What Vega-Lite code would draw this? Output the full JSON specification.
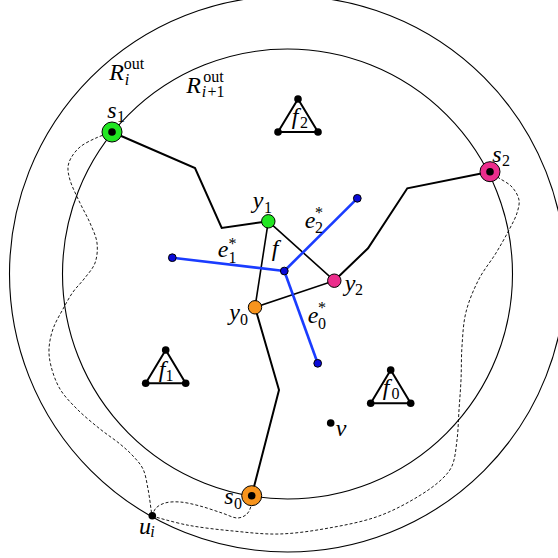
{
  "$schema": "https://vega.github.io/schema/vega-lite/v6.json",
  "width": 558,
  "height": 558,
  "padding": 0,
  "autosize": {"type": "none"},
  "background": "white",
  "config": {"view": {"stroke": null}},
  "datasets": {
    "rings": [
      {"x": 287.5, "y": 274, "r": 278},
      {"x": 287.5, "y": 274, "r": 225}
    ],
    "dashed": [
      {"c": "A", "i": 0, "x": 112, "y": 132},
      {"c": "A", "i": 1, "x": 96, "y": 138},
      {"c": "A", "i": 2, "x": 80, "y": 147},
      {"c": "A", "i": 3, "x": 71, "y": 158},
      {"c": "A", "i": 4, "x": 68, "y": 167},
      {"c": "A", "i": 5, "x": 70, "y": 180},
      {"c": "A", "i": 6, "x": 80, "y": 203},
      {"c": "A", "i": 7, "x": 90, "y": 223},
      {"c": "A", "i": 8, "x": 97, "y": 243},
      {"c": "A", "i": 9, "x": 95, "y": 263},
      {"c": "A", "i": 10, "x": 84, "y": 279},
      {"c": "A", "i": 11, "x": 73, "y": 292},
      {"c": "A", "i": 12, "x": 63, "y": 309},
      {"c": "A", "i": 13, "x": 53, "y": 329},
      {"c": "A", "i": 14, "x": 49, "y": 349},
      {"c": "A", "i": 15, "x": 51, "y": 366},
      {"c": "A", "i": 16, "x": 60, "y": 389},
      {"c": "A", "i": 17, "x": 77, "y": 409},
      {"c": "A", "i": 18, "x": 100, "y": 429},
      {"c": "A", "i": 19, "x": 120, "y": 444},
      {"c": "A", "i": 20, "x": 133, "y": 456},
      {"c": "A", "i": 21, "x": 143, "y": 469},
      {"c": "A", "i": 22, "x": 148, "y": 489},
      {"c": "A", "i": 23, "x": 151, "y": 509},
      {"c": "A", "i": 24, "x": 152, "y": 516},
      {"c": "B", "i": 0, "x": 152, "y": 516},
      {"c": "B", "i": 1, "x": 156, "y": 508},
      {"c": "B", "i": 2, "x": 165, "y": 503},
      {"c": "B", "i": 3, "x": 180, "y": 502},
      {"c": "B", "i": 4, "x": 200, "y": 506},
      {"c": "B", "i": 5, "x": 222, "y": 513},
      {"c": "B", "i": 6, "x": 238, "y": 518},
      {"c": "B", "i": 7, "x": 247, "y": 514},
      {"c": "B", "i": 8, "x": 251, "y": 506},
      {"c": "B", "i": 9, "x": 252, "y": 496},
      {"c": "C", "i": 0, "x": 152, "y": 516},
      {"c": "C", "i": 1, "x": 187, "y": 525},
      {"c": "C", "i": 2, "x": 233, "y": 531},
      {"c": "C", "i": 3, "x": 279, "y": 534},
      {"c": "C", "i": 4, "x": 329, "y": 528},
      {"c": "C", "i": 5, "x": 379, "y": 516},
      {"c": "C", "i": 6, "x": 419, "y": 496},
      {"c": "C", "i": 7, "x": 442, "y": 479},
      {"c": "C", "i": 8, "x": 452, "y": 466},
      {"c": "C", "i": 9, "x": 457, "y": 440},
      {"c": "C", "i": 10, "x": 459, "y": 410},
      {"c": "C", "i": 11, "x": 461, "y": 380},
      {"c": "C", "i": 12, "x": 462, "y": 346},
      {"c": "C", "i": 13, "x": 466, "y": 312},
      {"c": "C", "i": 14, "x": 479, "y": 279},
      {"c": "C", "i": 15, "x": 496, "y": 253},
      {"c": "C", "i": 16, "x": 509, "y": 230},
      {"c": "C", "i": 17, "x": 517, "y": 213},
      {"c": "C", "i": 18, "x": 519, "y": 200},
      {"c": "C", "i": 19, "x": 512, "y": 187},
      {"c": "C", "i": 20, "x": 499, "y": 178},
      {"c": "C", "i": 21, "x": 490, "y": 172}
    ],
    "paths": [
      {"p": "s1", "i": 0, "x": 112, "y": 132},
      {"p": "s1", "i": 1, "x": 195, "y": 168},
      {"p": "s1", "i": 2, "x": 221.7, "y": 228},
      {"p": "s1", "i": 3, "x": 268.3, "y": 221.3},
      {"p": "s0", "i": 0, "x": 255, "y": 307.3},
      {"p": "s0", "i": 1, "x": 279, "y": 390},
      {"p": "s0", "i": 2, "x": 251.7, "y": 495.7},
      {"p": "s2", "i": 0, "x": 334.3, "y": 280.7},
      {"p": "s2", "i": 1, "x": 368, "y": 248.3},
      {"p": "s2", "i": 2, "x": 407.3, "y": 188.3},
      {"p": "s2", "i": 3, "x": 490, "y": 171.7}
    ],
    "tri": [
      {"i": 0, "x": 268.3, "y": 221.3},
      {"i": 1, "x": 255, "y": 307.3},
      {"i": 2, "x": 334.3, "y": 280.7},
      {"i": 3, "x": 268.3, "y": 221.3}
    ],
    "faces": [
      {"f": "f2", "i": 0, "x": 298, "y": 99},
      {"f": "f2", "i": 1, "x": 278, "y": 132},
      {"f": "f2", "i": 2, "x": 318, "y": 132},
      {"f": "f2", "i": 3, "x": 298, "y": 99},
      {"f": "f1", "i": 0, "x": 165.7, "y": 350},
      {"f": "f1", "i": 1, "x": 145.7, "y": 383.3},
      {"f": "f1", "i": 2, "x": 185.7, "y": 383.3},
      {"f": "f1", "i": 3, "x": 165.7, "y": 350},
      {"f": "f0", "i": 0, "x": 390.7, "y": 370},
      {"f": "f0", "i": 1, "x": 370.7, "y": 403.3},
      {"f": "f0", "i": 2, "x": 410.7, "y": 403.3},
      {"f": "f0", "i": 3, "x": 390.7, "y": 370}
    ],
    "dual": [
      {"e": "e1", "i": 0, "x": 172.3, "y": 257.7},
      {"e": "e1", "i": 1, "x": 284.3, "y": 271},
      {"e": "e2", "i": 0, "x": 284.3, "y": 271},
      {"e": "e2", "i": 1, "x": 357.3, "y": 198.3},
      {"e": "e0", "i": 0, "x": 284.3, "y": 271},
      {"e": "e0", "i": 1, "x": 317.7, "y": 363.3}
    ],
    "dualpts": [
      {"x": 172.3, "y": 257.7},
      {"x": 284.3, "y": 271},
      {"x": 357.3, "y": 198.3},
      {"x": 317.7, "y": 363.3}
    ],
    "nodes": [
      {"n": "s0", "k": "0", "t": "s", "x": 251.7, "y": 495.7},
      {"n": "s1", "k": "1", "t": "s", "x": 112, "y": 132},
      {"n": "s2", "k": "2", "t": "s", "x": 490, "y": 171.7},
      {"n": "y0", "k": "0", "t": "y", "x": 255, "y": 307.3},
      {"n": "y1", "k": "1", "t": "y", "x": 268.3, "y": 221.3},
      {"n": "y2", "k": "2", "t": "y", "x": 334.3, "y": 280.7}
    ],
    "dots": [
      {"x": 251.7, "y": 495.7},
      {"x": 112, "y": 132},
      {"x": 490, "y": 171.7},
      {"x": 298, "y": 99},
      {"x": 278, "y": 132},
      {"x": 318, "y": 132},
      {"x": 165.7, "y": 350},
      {"x": 145.7, "y": 383.3},
      {"x": 185.7, "y": 383.3},
      {"x": 390.7, "y": 370},
      {"x": 370.7, "y": 403.3},
      {"x": 410.7, "y": 403.3},
      {"x": 152.3, "y": 515.7},
      {"x": 330.7, "y": 423}
    ],
    "labels": [
      {"k": "m", "t": "R", "x": 116.5, "y": 80},
      {"k": "m", "t": "R", "x": 193.5, "y": 93},
      {"k": "m", "t": "s", "x": 112, "y": 118},
      {"k": "m", "t": "y", "x": 258, "y": 208},
      {"k": "m", "t": "f", "x": 275, "y": 256},
      {"k": "m", "t": "e", "x": 223, "y": 257},
      {"k": "m", "t": "e", "x": 310, "y": 228},
      {"k": "m", "t": "e", "x": 313, "y": 323},
      {"k": "m", "t": "y", "x": 350, "y": 291},
      {"k": "m", "t": "y", "x": 234.5, "y": 320},
      {"k": "m", "t": "s", "x": 497, "y": 162},
      {"k": "m", "t": "s", "x": 229, "y": 504},
      {"k": "m", "t": "u", "x": 145, "y": 534},
      {"k": "m", "t": "v", "x": 341, "y": 436},
      {"k": "m", "t": "f", "x": 295, "y": 124},
      {"k": "m", "t": "f", "x": 162, "y": 377},
      {"k": "m", "t": "f", "x": 386, "y": 395},
      {"k": "s", "t": "1", "x": 121, "y": 122},
      {"k": "s", "t": "1", "x": 268, "y": 213},
      {"k": "s", "t": "1", "x": 232.5, "y": 263},
      {"k": "s", "t": "2", "x": 319, "y": 233},
      {"k": "s", "t": "0", "x": 322, "y": 329},
      {"k": "s", "t": "2", "x": 359, "y": 295},
      {"k": "s", "t": "0", "x": 244, "y": 325},
      {"k": "s", "t": "2", "x": 506, "y": 166},
      {"k": "s", "t": "0", "x": 238, "y": 509},
      {"k": "s", "t": "2", "x": 304, "y": 128},
      {"k": "s", "t": "1", "x": 169.5, "y": 381},
      {"k": "s", "t": "0", "x": 395.5, "y": 399},
      {"k": "s", "t": "+1", "x": 216, "y": 97},
      {"k": "si", "t": "i", "x": 127, "y": 85},
      {"k": "si", "t": "i", "x": 204, "y": 97},
      {"k": "si", "t": "i", "x": 152.5, "y": 537},
      {"k": "s", "t": "out", "x": 134, "y": 69},
      {"k": "s", "t": "out", "x": 213.5, "y": 82},
      {"k": "s", "t": "*", "x": 232.5, "y": 249},
      {"k": "s", "t": "*", "x": 319, "y": 218},
      {"k": "s", "t": "*", "x": 322, "y": 313}
    ]
  },
  "encoding": {
    "x": {"field": "x", "type": "quantitative", "scale": {"domain": [0, 558], "nice": false, "zero": false}, "axis": null},
    "y": {"field": "y", "type": "quantitative", "scale": {"domain": [0, 558], "nice": false, "zero": false, "reverse": true}, "axis": null}
  },
  "layer": [
    {
      "data": {"name": "rings"},
      "mark": {"type": "point", "shape": "circle", "filled": false, "stroke": "black", "strokeWidth": 1.1, "opacity": 1},
      "encoding": {
        "size": {"field": "r", "type": "quantitative", "scale": {"type": "pow", "exponent": 2, "domain": [0, 278], "range": [0, 309136]}, "legend": null}
      }
    },
    {
      "data": {"name": "dashed"},
      "mark": {"type": "line", "color": "black", "strokeWidth": 0.9, "strokeDash": [3, 2], "interpolate": "catmull-rom"},
      "encoding": {"detail": {"field": "c"}, "order": {"field": "i", "type": "quantitative"}}
    },
    {
      "data": {"name": "paths"},
      "mark": {"type": "line", "color": "black", "strokeWidth": 2},
      "encoding": {"detail": {"field": "p"}, "order": {"field": "i", "type": "quantitative"}}
    },
    {
      "data": {"name": "tri"},
      "mark": {"type": "line", "color": "black", "strokeWidth": 1.6},
      "encoding": {"order": {"field": "i", "type": "quantitative"}}
    },
    {
      "data": {"name": "faces"},
      "mark": {"type": "line", "color": "black", "strokeWidth": 2, "strokeJoin": "round"},
      "encoding": {"detail": {"field": "f"}, "order": {"field": "i", "type": "quantitative"}}
    },
    {
      "data": {"name": "dual"},
      "mark": {"type": "line", "color": "#1a3cff", "strokeWidth": 2.6},
      "encoding": {"detail": {"field": "e"}, "order": {"field": "i", "type": "quantitative"}}
    },
    {
      "data": {"name": "dualpts"},
      "mark": {"type": "point", "shape": "circle", "filled": true, "fill": "#0a0ad8", "stroke": "black", "strokeWidth": 1, "size": 60, "opacity": 1}
    },
    {
      "data": {"name": "nodes"},
      "transform": [{"filter": "datum.t === 's'"}],
      "mark": {"type": "point", "shape": "circle", "filled": true, "stroke": "black", "strokeWidth": 1, "size": 400, "opacity": 1},
      "encoding": {"fill": {"field": "k", "type": "nominal", "scale": {"domain": ["0", "1", "2"], "range": ["#f7941d", "#22e622", "#ec2d8c"]}, "legend": null}}
    },
    {
      "data": {"name": "nodes"},
      "transform": [{"filter": "datum.t === 'y'"}],
      "mark": {"type": "point", "shape": "circle", "filled": true, "stroke": "black", "strokeWidth": 1, "size": 180, "opacity": 1},
      "encoding": {"fill": {"field": "k", "type": "nominal", "scale": {"domain": ["0", "1", "2"], "range": ["#f7941d", "#22e622", "#ec2d8c"]}, "legend": null}}
    },
    {
      "data": {"name": "dots"},
      "mark": {"type": "point", "shape": "circle", "filled": true, "fill": "black", "stroke": null, "size": 58, "opacity": 1}
    },
    {
      "data": {"name": "labels"},
      "transform": [{"filter": "datum.k === 'm'"}],
      "mark": {"type": "text", "font": "Liberation Serif", "fontStyle": "italic", "fontSize": 24, "align": "center", "baseline": "alphabetic", "color": "black"},
      "encoding": {"text": {"field": "t"}}
    },
    {
      "data": {"name": "labels"},
      "transform": [{"filter": "datum.k === 's'"}],
      "mark": {"type": "text", "font": "Liberation Serif", "fontSize": 16, "align": "center", "baseline": "alphabetic", "color": "black"},
      "encoding": {"text": {"field": "t"}}
    },
    {
      "data": {"name": "labels"},
      "transform": [{"filter": "datum.k === 'si'"}],
      "mark": {"type": "text", "font": "Liberation Serif", "fontStyle": "italic", "fontSize": 16, "align": "center", "baseline": "alphabetic", "color": "black"},
      "encoding": {"text": {"field": "t"}}
    }
  ]
}
